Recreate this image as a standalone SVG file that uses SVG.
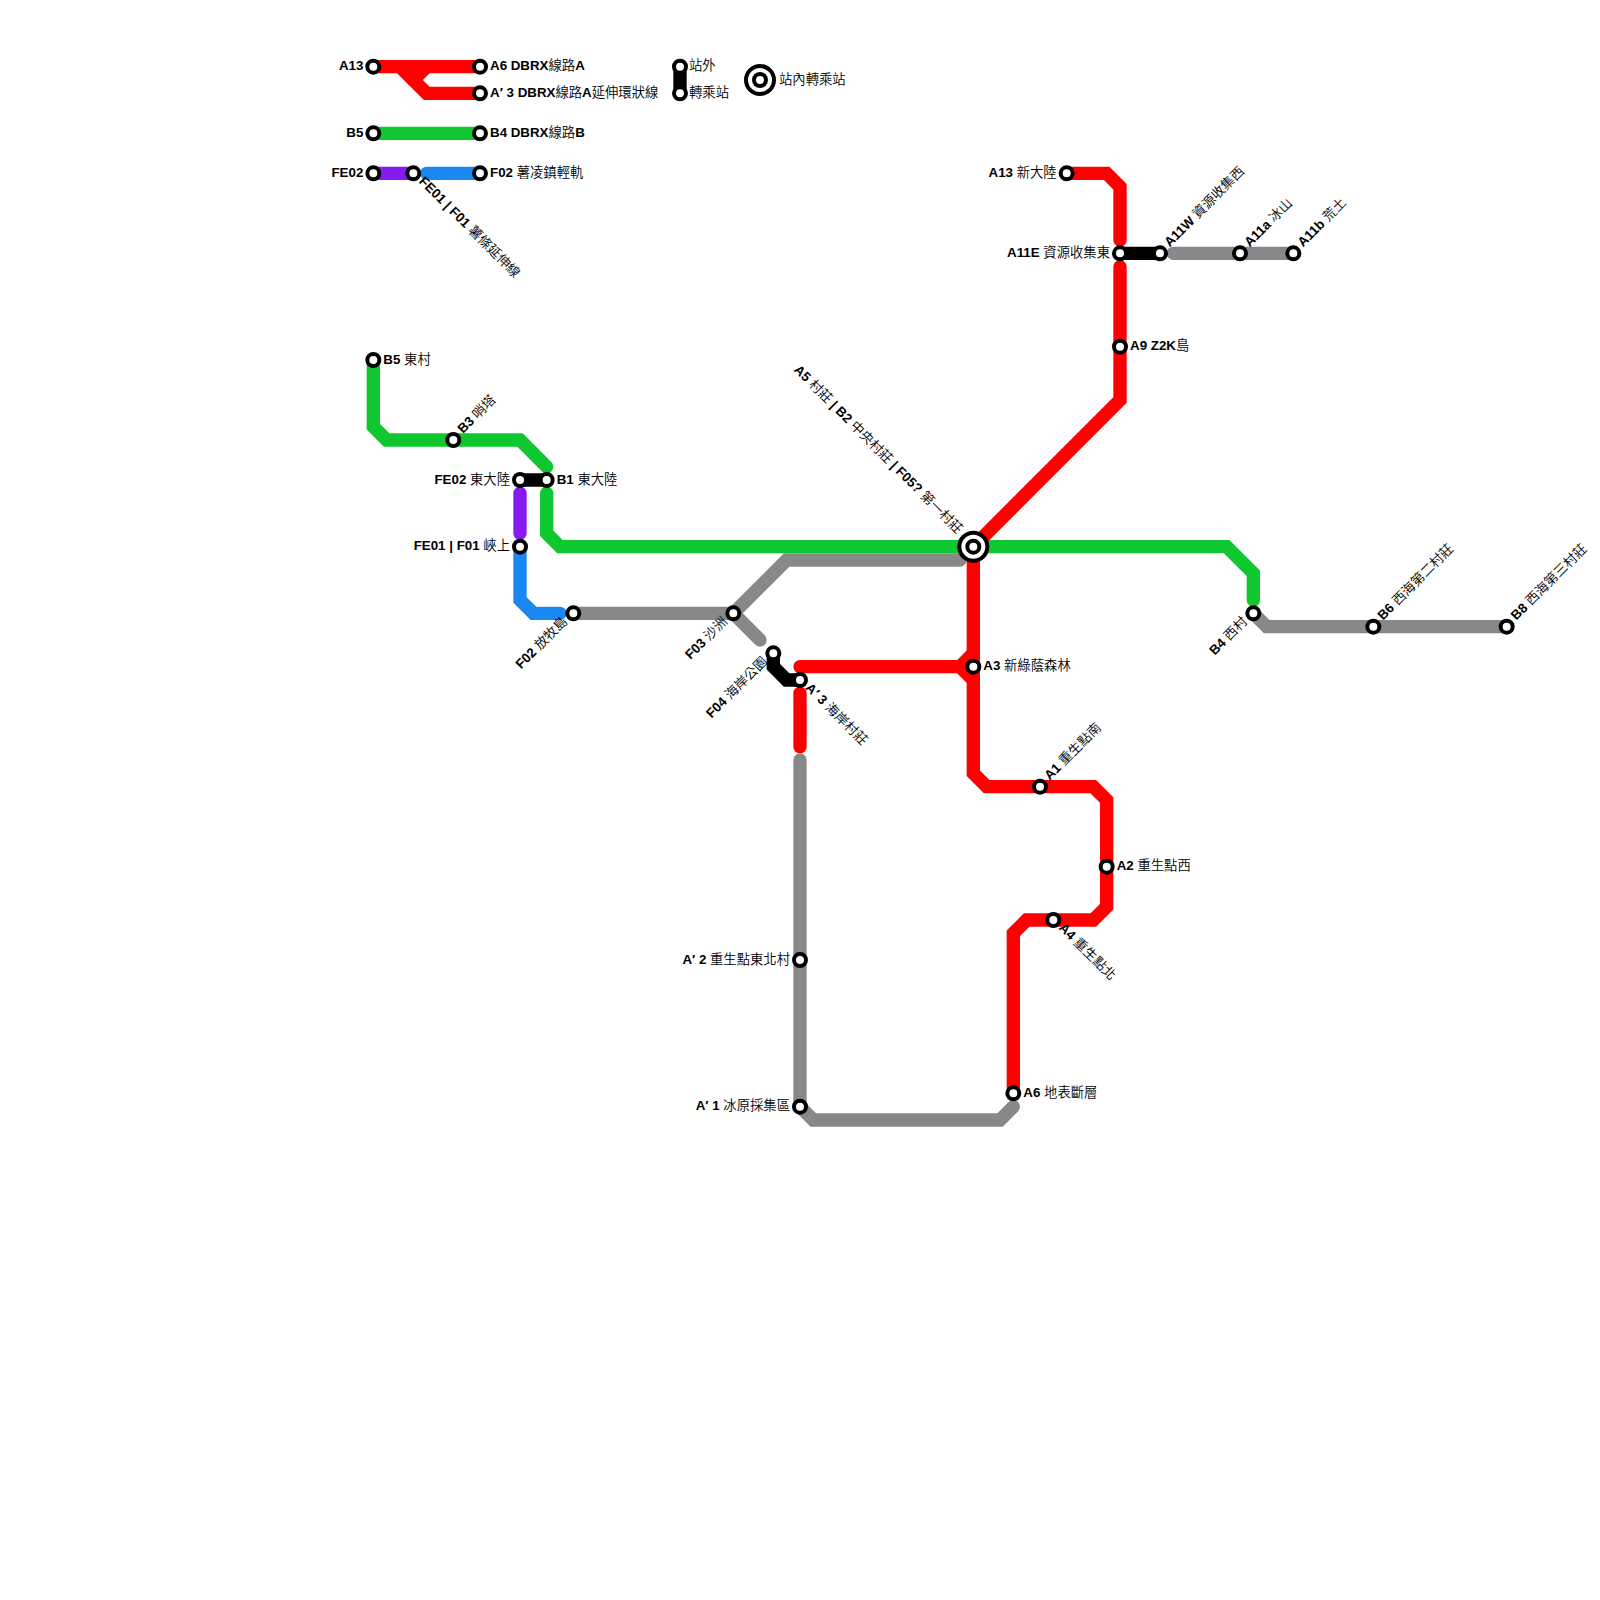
<svg xmlns="http://www.w3.org/2000/svg" width="1600" height="1600" viewBox="0 0 1600 1600">
<style>
text{font-family:"Liberation Sans","Noto Sans CJK TC",sans-serif;font-size:13.33px;font-weight:350;fill:#000}
.e{text-anchor:end}
.b{font-weight:700}
polyline{fill:none;stroke-width:13.33;stroke-linecap:round;stroke-linejoin:miter;stroke-miterlimit:4}
.red{stroke:#ff0000}.green{stroke:#0fc72f}.gray{stroke:#888888}.black{stroke:#000}.purple{stroke:#851bef}.blue{stroke:#1b87f0}
.s,.i{fill:#fff;stroke:#000;stroke-width:4}
</style>
<rect width="1600" height="1600" fill="#fff"/>
<g id="connectors">
<polyline class="red" points="373.33,66.67 480,66.67"/>
<polyline class="red" points="400,66.67 426.67,93.33 480,93.33"/>
<polyline class="red" points="426.67,66.67 413.33,80"/>
<polyline class="green" points="373.33,133.33 480,133.33"/>
<polyline class="purple" points="373.33,173.33 413.33,173.33"/>
<polyline class="blue" points="426.67,173.33 480,173.33"/>
<polyline class="black" points="680,66.67 680,93.33"/>
<polyline class="green" points="373.33,360 373.33,426.67 386.67,440 520,440 546.67,466.67"/>
<polyline class="black" points="520,480 546.67,480"/>
<polyline class="purple" points="520,493.33 520,533.33"/>
<polyline class="blue" points="520,546.67 520,600 533.33,613.33 560,613.33"/>
<polyline class="green" points="546.67,493.33 546.67,533.33 560,546.67 1226.67,546.67 1253.33,573.33 1253.33,600"/>
<polyline class="gray" points="573.33,613.33 733.33,613.33 786.67,560 960,560"/>
<polyline class="gray" points="733.33,613.33 760,640"/>
<polyline class="black" points="773.33,653.33 773.33,666.67 786.67,680 800,680"/>
<polyline class="red" points="800,666.67 960,666.67 973.33,653.33"/>
<polyline class="red" points="960,666.67 973.33,680"/>
<polyline class="red" points="800,693.33 800,746.67"/>
<polyline class="gray" points="800,760 800,1106.67 813.33,1120 1000,1120 1013.33,1106.67"/>
<polyline class="red" points="1066.67,173.33 1106.67,173.33 1120,186.67 1120,240"/>
<polyline class="black" points="1120,253.33 1160,253.33"/>
<polyline class="gray" points="1173.33,253.33 1293.33,253.33"/>
<polyline class="red" points="1120,266.67 1120,400 973.33,546.67"/>
<polyline class="red" points="973.33,546.67 973.33,773.33 986.67,786.67 1093.33,786.67 1106.67,800 1106.67,906.67 1093.33,920 1026.67,920 1013.33,933.33 1013.33,1093.33"/>
<polyline class="gray" points="1253.33,613.33 1266.67,626.67 1506.67,626.67"/>
</g>
<g id="n-leg-a13"><circle class="s" cx="373.33" cy="66.67" r="6"/><text class="e b" x="363.33" y="70.33">A13</text></g>
<g id="n-leg-a6"><circle class="s" cx="480" cy="66.67" r="6"/><text x="490" y="70.33"><tspan class="b">A6 DBRX</tspan>線路<tspan class="b">A</tspan></text></g>
<g id="n-leg-a3p"><circle class="s" cx="480" cy="93.33" r="6"/><text x="490" y="97"><tspan class="b">A′ 3 DBRX</tspan>線路<tspan class="b">A</tspan>延伸環狀線</text></g>
<g id="n-leg-b5"><circle class="s" cx="373.33" cy="133.33" r="6"/><text class="e b" x="363.33" y="137">B5</text></g>
<g id="n-leg-b4"><circle class="s" cx="480" cy="133.33" r="6"/><text x="490" y="137"><tspan class="b">B4 DBRX</tspan>線路<tspan class="b">B</tspan></text></g>
<g id="n-leg-fe02"><circle class="s" cx="373.33" cy="173.33" r="6"/><text class="e b" x="363.33" y="177">FE02</text></g>
<g id="n-leg-fe01"><circle class="s" cx="413.33" cy="173.33" r="6"/><text transform="translate(413.33 173.33) rotate(45)" x="9.5" y="2.67"><tspan class="b">FE01 | F01 </tspan>薯條延伸線</text></g>
<g id="n-leg-f02"><circle class="s" cx="480" cy="173.33" r="6"/><text x="490" y="177"><tspan class="b">F02 </tspan>薯凌鎮輕軌</text></g>
<g id="n-leg-out1"><circle class="s" cx="680" cy="66.67" r="6"/><text x="689" y="70.33">站外</text></g>
<g id="n-leg-out2"><circle class="s" cx="680" cy="93.33" r="6"/><text x="689" y="97">轉乘站</text></g>
<g id="n-leg-in"><circle class="i" cx="760" cy="80" r="14"/><circle class="s" cx="760" cy="80" r="6"/><text x="779" y="83.67">站內轉乘站</text></g>
<g id="n-b5"><circle class="s" cx="373.33" cy="360" r="6"/><text x="383.33" y="363.67"><tspan class="b">B5 </tspan>東村</text></g>
<g id="n-b3"><circle class="s" cx="453.33" cy="440" r="6"/><text transform="translate(453.33 440) rotate(-45)" x="11" y="2.67"><tspan class="b">B3 </tspan>哨塔</text></g>
<g id="n-fe02"><circle class="s" cx="520" cy="480" r="6"/><text class="e" x="510" y="483.67"><tspan class="b">FE02 </tspan>東大陸</text></g>
<g id="n-b1"><circle class="s" cx="546.67" cy="480" r="6"/><text x="556.67" y="483.67"><tspan class="b">B1 </tspan>東大陸</text></g>
<g id="n-fe01"><circle class="s" cx="520" cy="546.67" r="6"/><text class="e" x="510" y="550.33"><tspan class="b">FE01 | F01 </tspan>峽上</text></g>
<g id="n-f02"><circle class="s" cx="573.33" cy="613.33" r="6"/><text class="e" transform="translate(573.33 613.33) rotate(-45)" x="-10" y="2.67"><tspan class="b">F02 </tspan>放牧島</text></g>
<g id="n-f03"><circle class="s" cx="733.33" cy="613.33" r="6"/><text class="e" transform="translate(733.33 613.33) rotate(-45)" x="-10" y="2.67"><tspan class="b">F03 </tspan>沙洲</text></g>
<g id="n-f04"><circle class="s" cx="773.33" cy="653.33" r="6"/><text class="e" transform="translate(773.33 653.33) rotate(-45)" x="-10" y="2.67"><tspan class="b">F04 </tspan>海岸公園</text></g>
<g id="n-a3p"><circle class="s" cx="800" cy="680" r="6"/><text transform="translate(800 680) rotate(45)" x="9.5" y="2.67"><tspan class="b">A′ 3 </tspan>海岸村莊</text></g>
<g id="n-a3"><circle class="s" cx="973.33" cy="666.67" r="6"/><text x="983.33" y="670.33"><tspan class="b">A3 </tspan>新綠蔭森林</text></g>
<g id="n-central"><circle class="i" cx="973.33" cy="546.67" r="14"/><circle class="s" cx="973.33" cy="546.67" r="6"/><text class="e" transform="translate(973.33 546.67) rotate(45)" x="-20" y="2.67"><tspan class="b">A5 </tspan>村莊<tspan class="b"> | B2 </tspan>中央村莊<tspan class="b"> | F05? </tspan>第一村莊</text></g>
<g id="n-a13"><circle class="s" cx="1066.67" cy="173.33" r="6"/><text class="e" x="1056.67" y="177"><tspan class="b">A13 </tspan>新大陸</text></g>
<g id="n-a11e"><circle class="s" cx="1120" cy="253.33" r="6"/><text class="e" x="1110" y="257"><tspan class="b">A11E </tspan>資源收集東</text></g>
<g id="n-a11w"><circle class="s" cx="1160" cy="253.33" r="6"/><text transform="translate(1160 253.33) rotate(-45)" x="11" y="2.67"><tspan class="b">A11W </tspan>資源收集西</text></g>
<g id="n-a11a"><circle class="s" cx="1240" cy="253.33" r="6"/><text transform="translate(1240 253.33) rotate(-45)" x="11" y="2.67"><tspan class="b">A11a </tspan>冰山</text></g>
<g id="n-a11b"><circle class="s" cx="1293.33" cy="253.33" r="6"/><text transform="translate(1293.33 253.33) rotate(-45)" x="11" y="2.67"><tspan class="b">A11b </tspan>荒土</text></g>
<g id="n-a9"><circle class="s" cx="1120" cy="346.67" r="6"/><text x="1130" y="350.33"><tspan class="b">A9 Z2K</tspan>島</text></g>
<g id="n-b4"><circle class="s" cx="1253.33" cy="613.33" r="6"/><text class="e" transform="translate(1253.33 613.33) rotate(-45)" x="-10" y="2.67"><tspan class="b">B4 </tspan>西村</text></g>
<g id="n-b6"><circle class="s" cx="1373.33" cy="626.67" r="6"/><text transform="translate(1373.33 626.67) rotate(-45)" x="11" y="2.67"><tspan class="b">B6 </tspan>西海第二村莊</text></g>
<g id="n-b8"><circle class="s" cx="1506.67" cy="626.67" r="6"/><text transform="translate(1506.67 626.67) rotate(-45)" x="11" y="2.67"><tspan class="b">B8 </tspan>西海第三村莊</text></g>
<g id="n-a1"><circle class="s" cx="1040" cy="786.67" r="6"/><text transform="translate(1040 786.67) rotate(-45)" x="11" y="2.67"><tspan class="b">A1 </tspan>重生點南</text></g>
<g id="n-a2"><circle class="s" cx="1106.67" cy="866.67" r="6"/><text x="1116.67" y="870.33"><tspan class="b">A2 </tspan>重生點西</text></g>
<g id="n-a4"><circle class="s" cx="1053.33" cy="920" r="6"/><text transform="translate(1053.33 920) rotate(45)" x="9.5" y="2.67"><tspan class="b">A4 </tspan>重生點北</text></g>
<g id="n-a6"><circle class="s" cx="1013.33" cy="1093.33" r="6"/><text x="1023.33" y="1097"><tspan class="b">A6 </tspan>地表斷層</text></g>
<g id="n-a2p"><circle class="s" cx="800" cy="960" r="6"/><text class="e" x="790" y="963.67"><tspan class="b">A′ 2 </tspan>重生點東北村</text></g>
<g id="n-a1p"><circle class="s" cx="800" cy="1106.67" r="6"/><text class="e" x="790" y="1110.33"><tspan class="b">A′ 1 </tspan>冰原採集區</text></g>
</svg>
